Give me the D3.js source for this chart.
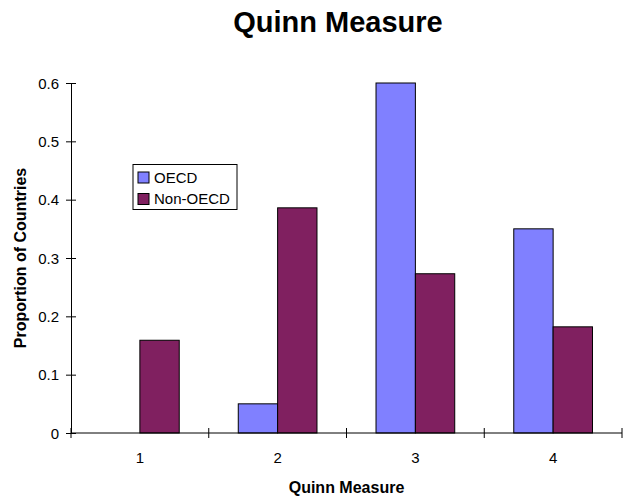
<!DOCTYPE html>
<html>
<head>
<meta charset="utf-8">
<script src="https://cdn.jsdelivr.net/npm/d3@7"></script>
<style>
  body { margin: 0; background: #fff; }
  svg text { font-family: "Liberation Sans", Arial, sans-serif; fill: #000; }
</style>
</head>
<body>
<svg id="chart" width="625" height="500"></svg>
<script>
// Quinn capital-account openness measure, share of countries per level
const categories = ["1", "2", "3", "4"];
const seriesNames = ["OECD", "Non-OECD"];
const oecdValues = [0, 0.05, 0.6, 0.35];
const nonOecdValues = [0.159, 0.386, 0.273, 0.182];
const yTickValues = [0, 0.1, 0.2, 0.3, 0.4, 0.5, 0.6];
const seriesColors = ["#8080FF", "#802060"];

const svg = d3.select("#chart");
const plot = { left: 71, right: 622, top: 83, bottom: 433 };

const x0 = d3.scaleBand().domain(categories).range([plot.left, plot.right]).padding(0);
const bw = x0.bandwidth();
// gap width of 150% of a bar: two bars + 1.5 bars of gap per category
const barW = bw / 3.5;
const x1 = d3.scaleBand().domain(seriesNames).range([barW * 0.75, barW * 2.75]).padding(0);
const y = d3.scaleLinear().domain([0, 0.6]).range([plot.bottom, plot.top]);

const rows = categories.map((c, i) => ({
  cat: c,
  vals: [
    { s: seriesNames[0], v: oecdValues[i] },
    { s: seriesNames[1], v: nonOecdValues[i] }
  ]
}));

// bars
const groups = svg.append("g").selectAll("g").data(rows).join("g")
  .attr("transform", d => `translate(${x0(d.cat)},0)`);
groups.selectAll("rect").data(d => d.vals.filter(e => e.v > 0)).join("rect")
  .attr("x", d => x1(d.s))
  .attr("y", d => y(d.v))
  .attr("width", x1.bandwidth())
  .attr("height", d => y(0) - y(d.v))
  .attr("fill", (d) => seriesColors[seriesNames.indexOf(d.s)])
  .attr("stroke", "#000")
  .attr("stroke-width", 1);

// y axis with ticks crossing the line
const yAxis = d3.axisLeft(y).tickValues(yTickValues).tickSizeInner(5).tickSizeOuter(0)
  .tickFormat(d => d === 0 ? "0" : d3.format(".1f")(d)).tickPadding(7);
const gy = svg.append("g").attr("transform", `translate(${plot.left},0)`).call(yAxis);
gy.selectAll(".tick line").attr("x1", -5).attr("x2", 5).attr("stroke", "#000");
gy.select(".domain").attr("stroke", "#000");
gy.selectAll(".tick text").attr("font-size", 15).attr("font-family", "Liberation Sans, Arial, sans-serif").attr("dy", "0.35em");

// x axis: category labels centred, ticks at category boundaries
const gx = svg.append("g").attr("transform", `translate(0,${plot.bottom})`);
gx.append("line").attr("x1", plot.left).attr("x2", plot.right).attr("stroke", "#000");
const boundaries = categories.map(c => x0(c)).concat([plot.right]);
gx.selectAll("line.tk").data(boundaries).join("line").attr("class", "tk")
  .attr("x1", d => d).attr("x2", d => d).attr("y1", -5).attr("y2", 5).attr("stroke", "#000");
gx.selectAll("text").data(categories).join("text")
  .attr("x", d => x0(d) + bw / 2).attr("y", 30)
  .attr("text-anchor", "middle").attr("font-size", 15).text(d => d);

// titles
svg.append("text").attr("x", 338).attr("y", 32).attr("text-anchor", "middle")
  .attr("font-size", 29).attr("font-weight", "bold").text("Quinn Measure");
svg.append("text").attr("x", (plot.left + plot.right) / 2).attr("y", 493).attr("text-anchor", "middle")
  .attr("font-size", 16).attr("font-weight", "bold").text("Quinn Measure");
svg.append("text").attr("transform", `translate(26,${(plot.top + plot.bottom) / 2}) rotate(-90)`)
  .attr("text-anchor", "middle").attr("font-size", 16).attr("font-weight", "bold")
  .text("Proportion of Countries");

// legend
const lg = svg.append("g");
lg.append("rect").attr("x", 133).attr("y", 164.5).attr("width", 104).attr("height", 45)
  .attr("fill", "#fff").attr("stroke", "#000");
const items = lg.selectAll("g").data(seriesNames).join("g")
  .attr("transform", (d, i) => `translate(138,${172 + i * 21.5})`);
items.append("rect").attr("width", 11).attr("height", 11)
  .attr("fill", (d, i) => seriesColors[i]).attr("stroke", "#000");
items.append("text").attr("x", 16).attr("y", 10.5).attr("font-size", 15).text(d => d);
</script>
</body>
</html>
